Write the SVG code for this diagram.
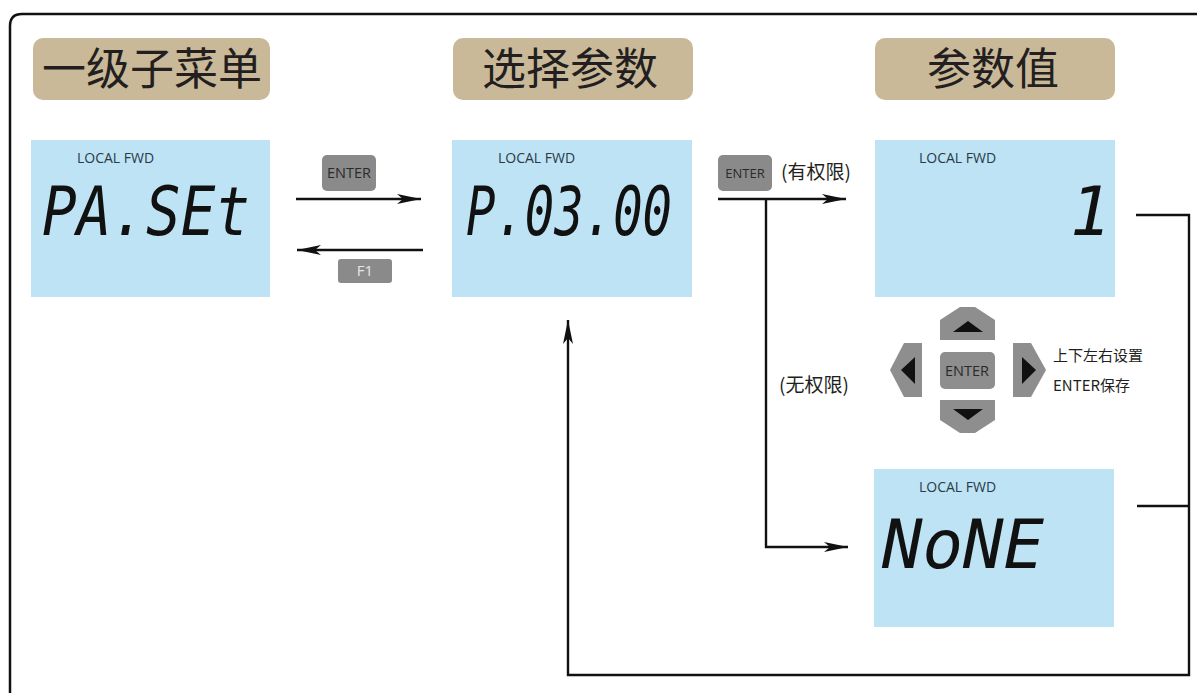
<svg xmlns="http://www.w3.org/2000/svg" width="1197" height="693" viewBox="0 0 1197 693">
<defs>
<style>
.title{fill:#c9b999}
.ttxt{font-family:"Noto Sans CJK SC","Noto Sans",sans-serif;font-size:44px;fill:#231f20;text-anchor:middle}
.lcd{fill:#bde3f5}
.lf{font-family:"Open Sans","Liberation Sans",sans-serif;font-size:14px;fill:#2b3a45}
.seg{font-family:"DejaVu Sans Mono",monospace;font-style:italic;font-size:68px;fill:#111}
.btn{fill:#8a8a8a}
.btxt{font-family:"Open Sans","Liberation Sans",sans-serif;font-size:15px;fill:#2a2a2a;text-anchor:middle}
.lbl{font-family:"Noto Sans CJK SC","Noto Sans",sans-serif;font-size:19px;fill:#231f20}
.sm{font-family:"Noto Sans CJK SC","Open Sans",sans-serif;font-size:15px;fill:#231f20}
.ln{fill:none;stroke:#111;stroke-width:2.4}
.pad{fill:#8e8e8e}
.tri{fill:#111}
</style>
<marker id="ah" markerUnits="userSpaceOnUse" markerWidth="26" markerHeight="12" refX="24" refY="5" orient="auto">
<path d="M0,0 L24,5 L0,10 L6,5 Z" fill="#111"/>
</marker>
</defs>
<rect width="1197" height="693" fill="#fff"/>
<path d="M10,693 V26 Q10,14 22,14 H1197" fill="none" stroke="#111" stroke-width="2.5"/>

<g id="title1"><rect class="title" x="33" y="38" width="237" height="62" rx="10"/><text class="ttxt" x="152" y="85">一级子菜单</text></g>
<g id="title2"><rect class="title" x="453" y="38" width="240" height="62" rx="10"/><text class="ttxt" x="570" y="85">选择参数</text></g>
<g id="title3"><rect class="title" x="875" y="38" width="240" height="62" rx="10"/><text class="ttxt" x="993" y="85">参数值</text></g>

<g id="lcd1"><rect class="lcd" x="31" y="140" width="239" height="157"/><text class="lf" x="77" y="163">LOCAL FWD</text><text class="seg" x="42" y="235" textLength="208" lengthAdjust="spacingAndGlyphs">PA.SEt</text></g>
<g id="lcd2"><rect class="lcd" x="452" y="140" width="240" height="157"/><text class="lf" x="498" y="163">LOCAL FWD</text><text class="seg" x="466" y="235" textLength="206" lengthAdjust="spacingAndGlyphs">P.03.00</text></g>
<g id="lcd3"><rect class="lcd" x="875" y="140" width="240" height="157"/><text class="lf" x="919" y="163">LOCAL FWD</text><text class="seg" x="1070" y="235">1</text></g>
<g id="lcd4"><rect class="lcd" x="874" y="469" width="240" height="158"/><text class="lf" x="919" y="492">LOCAL FWD</text><text class="seg" x="882" y="568" textLength="162" lengthAdjust="spacingAndGlyphs">NoNE</text></g>

<g id="btn-enter1"><rect class="btn" x="322" y="155" width="54" height="36" rx="5"/><text class="btxt" x="349" y="178" textLength="44" lengthAdjust="spacingAndGlyphs">ENTER</text></g>
<g id="btn-f1"><rect class="btn" x="338" y="259" width="54" height="24" rx="3"/><text class="btxt" x="365" y="276" style="fill:#e6e6e6">F1</text></g>
<g id="btn-enter2"><rect class="btn" x="718" y="155" width="54" height="36" rx="5"/><text class="btxt" x="745" y="178" style="font-size:13px">ENTER</text></g>
<g id="label-has"><text class="lbl" x="781" y="179">(有权限)</text></g>
<g id="label-none"><text class="lbl" x="779" y="392">(无权限)</text></g>

<g id="dpad">
<path class="pad" d="M940,320 L960,307 L975,307 L995,320 L995,340 L940,340 Z"/>
<path class="tri" d="M953,332 L968,321 L983,332 Z"/>
<path class="pad" d="M940,400 L995,400 L995,420 L975,433 L960,433 L940,420 Z"/>
<path class="tri" d="M953,409 L983,409 L968,420 Z"/>
<path class="pad" d="M922,343 L904,343 L890,370 L904,397 L922,397 Z"/>
<path class="tri" d="M915,357 L901,370 L915,384 Z"/>
<path class="pad" d="M1013,343 L1031,343 L1046,370 L1031,397 L1013,397 Z"/>
<path class="tri" d="M1022,357 L1036,370 L1022,384 Z"/>
<rect class="pad" x="940" y="352" width="55" height="37" rx="5"/>
<text class="btxt" x="967" y="376" textLength="44" lengthAdjust="spacingAndGlyphs">ENTER</text>
<text class="sm" x="1053" y="361">上下左右设置</text>
<text class="sm" x="1053" y="391">ENTER保存</text>
</g>

<g id="connectors">
<line class="ln" x1="296" y1="199" x2="421" y2="199" marker-end="url(#ah)"/>
<line class="ln" x1="423" y1="250" x2="297" y2="250" marker-end="url(#ah)"/>
<line class="ln" x1="718" y1="199" x2="846" y2="199" marker-end="url(#ah)"/>
<polyline class="ln" points="766,199 766,547 848,547" marker-end="url(#ah)"/>
<polyline class="ln" points="1136,215 1189,215 1189,675 568,675 568,320" stroke-width="2.8" marker-end="url(#ah)"/>
<line class="ln" x1="1137" y1="506" x2="1189" y2="506" stroke-width="2.8"/>
</g>
</svg>
